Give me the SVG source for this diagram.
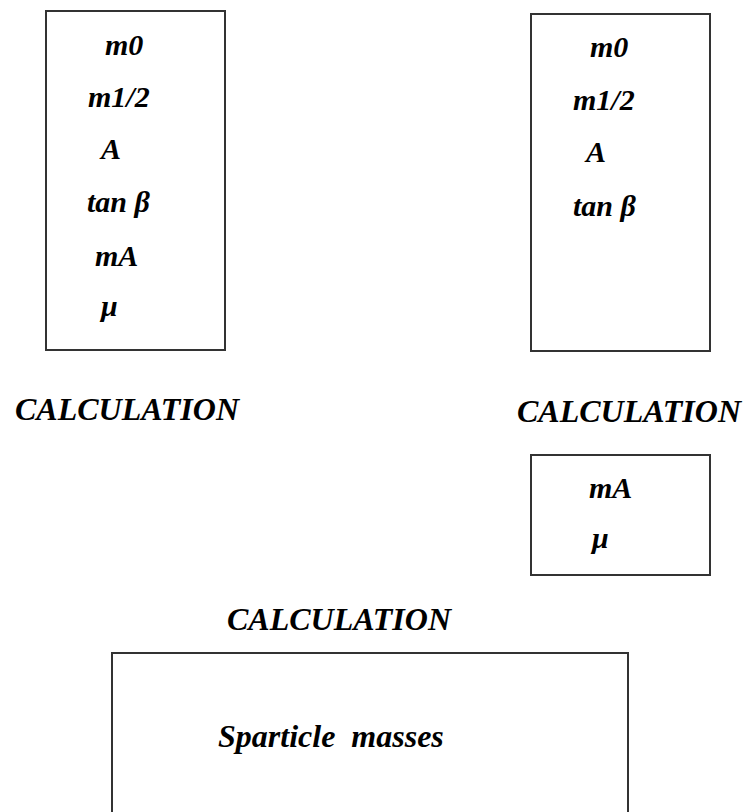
<svg xmlns="http://www.w3.org/2000/svg" width="745" height="812" viewBox="0 0 745 812">
<style>
.box{fill:none;stroke:#333;stroke-width:2}
.t{font-family:"Liberation Serif","Times New Roman",serif;font-weight:bold;font-style:italic;fill:#000}
.v{font-size:30px}
.c{font-size:32px}
</style>
<rect width="745" height="812" fill="#fff"/>
<g id="box-inputs-full">
<rect class="box" x="46" y="11" width="179" height="339"/>
<text class="t v" x="105" y="55">m0</text>
<text class="t v" x="88" y="107">m1/2</text>
<text class="t v" x="101" y="159">A</text>
<text class="t v" x="87" y="212">tan β</text>
<text class="t v" x="95" y="266">mA</text>
<text class="t v" x="101" y="316">μ</text>
</g>
<g id="calc-left"><text class="t c" x="15" y="420">CALCULATION</text></g>
<g id="box-inputs-partial">
<rect class="box" x="531" y="14" width="179" height="337"/>
<text class="t v" x="590" y="57">m0</text>
<text class="t v" x="573" y="110">m1/2</text>
<text class="t v" x="586" y="162">A</text>
<text class="t v" x="573" y="216">tan β</text>
</g>
<g id="calc-right"><text class="t c" x="517" y="422">CALCULATION</text></g>
<g id="box-outputs">
<rect class="box" x="531" y="455" width="179" height="120"/>
<text class="t v" x="589" y="498">mA</text>
<text class="t v" x="592" y="548">μ</text>
</g>
<g id="calc-bottom"><text class="t c" x="227" y="630">CALCULATION</text></g>
<g id="box-sparticle">
<rect class="box" x="112" y="653" width="516" height="180"/>
<text class="t c" x="218" y="747" word-spacing="8">Sparticle masses</text>
</g>
<g id="connectors"></g>
</svg>
